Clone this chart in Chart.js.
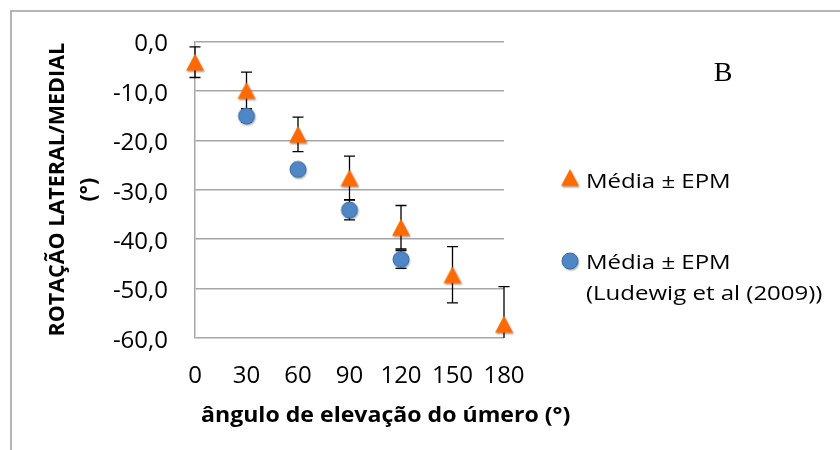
<!DOCTYPE html>
<html>
<head>
<meta charset="utf-8">
<script src="https://cdn.jsdelivr.net/npm/chart.js@4.4.1/dist/chart.umd.min.js"></script>
<style>
  html, body { margin: 0; padding: 0; background: #ffffff; }
  #wrap { width: 840px; height: 450px; position: relative; }
</style>
</head>
<body>
<div id="wrap"><canvas id="chart" width="840" height="450"></canvas></div>
<script>
// Humeral elevation angle (degrees)
const angles = [0, 30, 60, 90, 120, 150, 180];
// Lateral/medial rotation, mean and standard error of the mean (degrees)
const meanRotation = [-4.2, -9.9, -18.8, -27.6, -37.6, -47.2, -57.2];
const semRotation = [3.1, 3.7, 3.5, 4.4, 4.4, 5.7, 7.6];

// Reference values, Ludewig et al (2009)
const ludewigAngles = [30, 60, 90, 120];
const ludewigMean = [-15.1, -25.9, -34.1, -44.1];
const ludewigSem = [1.2, 1.0, 2.0, 1.8];

const yTicks = [0, -10, -20, -30, -40, -50, -60];
const xTicks = [0, 30, 60, 90, 120, 150, 180];

const xTitle = 'ângulo de elevação do úmero (°)';
const yTitle = ['ROTAÇÃO LATERAL/MEDIAL', '(°)'];
const seriesLabels = ['Média ± EPM', ['Média ± EPM', '(Ludewig et al (2009))']];
const panelLetter = 'B';

const ORANGE = '#FF6A00';
const BLUE = '#4F87C6';
const BLUE_EDGE = '#3A6AA3';

// Marker sprites with a soft drop shadow
function makeTriangle() {
  const c = document.createElement('canvas');
  c.width = 28; c.height = 28;
  const g = c.getContext('2d');
  g.shadowColor = 'rgba(0,0,0,0.35)';
  g.shadowBlur = 2;
  g.shadowOffsetX = 1;
  g.shadowOffsetY = 1.5;
  g.fillStyle = ORANGE;
  g.beginPath();
  g.moveTo(14, 5.5);
  g.lineTo(23, 22.5);
  g.lineTo(5, 22.5);
  g.closePath();
  g.fill();
  return c;
}
function makeCircle() {
  const c = document.createElement('canvas');
  c.width = 24; c.height = 24;
  const g = c.getContext('2d');
  g.shadowColor = 'rgba(0,0,0,0.35)';
  g.shadowBlur = 2;
  g.shadowOffsetX = 1;
  g.shadowOffsetY = 1.5;
  g.fillStyle = BLUE;
  g.beginPath();
  g.arc(12, 12, 8, 0, Math.PI * 2);
  g.fill();
  g.shadowColor = 'transparent';
  g.strokeStyle = BLUE_EDGE;
  g.lineWidth = 1;
  g.stroke();
  return c;
}
const triSprite = makeTriangle();
const dotSprite = makeCircle();

const toPoints = (xs, ys) => xs.map((x, i) => ({ x: x, y: ys[i] }));

// Text drawn with a horizontal stretch factor
function wideText(ctx, text, x, y, stretch) {
  ctx.save();
  ctx.translate(x, y);
  ctx.scale(stretch, 1);
  ctx.fillText(text, 0, 0);
  ctx.restore();
}

// Vertical error bars with caps, drawn beneath the markers
const errorBars = {
  id: 'errorBars',
  beforeDatasetsDraw(chart) {
    const { ctx, chartArea, scales: { x, y } } = chart;
    const sets = [
      { xs: angles, m: meanRotation, e: semRotation },
      { xs: ludewigAngles, m: ludewigMean, e: ludewigSem }
    ];
    ctx.save();
    ctx.strokeStyle = '#000000';
    ctx.lineWidth = 1.3;
    sets.forEach(s => {
      s.xs.forEach((a, i) => {
        const px = x.getPixelForValue(a);
        const top = y.getPixelForValue(s.m[i] + s.e[i]);
        const rawBot = y.getPixelForValue(s.m[i] - s.e[i]);
        const bot = Math.min(rawBot, chartArea.bottom);
        ctx.beginPath();
        ctx.moveTo(px, top); ctx.lineTo(px, bot);
        ctx.moveTo(px - 5.5, top); ctx.lineTo(px + 5.5, top);
        if (rawBot <= chartArea.bottom) {
          ctx.moveTo(px - 5.5, bot); ctx.lineTo(px + 5.5, bot);
        }
        ctx.stroke();
      });
    });
    ctx.restore();
  }
};

// Frame, axis title, panel letter and legend
const decorations = {
  id: 'decorations',
  beforeDraw(chart) {
    const ctx = chart.ctx;
    ctx.save();
    ctx.fillStyle = '#ffffff';
    ctx.fillRect(0, 0, chart.width, chart.height);
    ctx.strokeStyle = '#9d9d9d';
    ctx.lineWidth = 1.5;
    ctx.beginPath();
    ctx.moveTo(11, chart.height);
    ctx.lineTo(11, 11);
    ctx.lineTo(chart.width, 11);
    ctx.stroke();
    ctx.restore();
  },
  afterDraw(chart) {
    const ctx = chart.ctx;
    ctx.save();
    ctx.fillStyle = '#000000';

    // x-axis title
    ctx.font = 'bold 22px "Open Sans", sans-serif';
    ctx.textAlign = 'left';
    ctx.textBaseline = 'alphabetic';
    wideText(ctx, xTitle, 201, 421.5, 1.05);

    // panel letter
    ctx.font = '28px "Liberation Serif", "Times New Roman", serif';
    ctx.textAlign = 'center';
    ctx.fillText(panelLetter, 723, 81);

    // legend
    ctx.drawImage(triSprite, 570 - triSprite.width / 2, 177.5 - triSprite.height / 2);
    ctx.drawImage(dotSprite, 570 - dotSprite.width / 2, 261 - dotSprite.height / 2);
    ctx.font = '20px "Open Sans", sans-serif';
    ctx.textAlign = 'left';
    wideText(ctx, seriesLabels[0], 586, 187.5, 1.2);
    wideText(ctx, seriesLabels[1][0], 586, 268.5, 1.2);
    wideText(ctx, seriesLabels[1][1], 586, 300, 1.2);
    ctx.restore();
  }
};

Chart.defaults.font.family = '"Open Sans", sans-serif';
Chart.defaults.color = '#000000';

new Chart(document.getElementById('chart'), {
  type: 'scatter',
  data: {
    datasets: [
      {
        label: seriesLabels[0],
        data: toPoints(angles, meanRotation),
        pointStyle: triSprite,
        clip: false
      },
      {
        label: seriesLabels[1].join(' '),
        data: toPoints(ludewigAngles, ludewigMean),
        pointStyle: dotSprite,
        clip: false
      }
    ]
  },
  options: {
    responsive: false,
    animation: false,
    events: [],
    layout: { padding: { top: 38, right: 336, bottom: 0, left: 0 } },
    plugins: {
      legend: { display: false },
      tooltip: { enabled: false }
    },
    scales: {
      x: {
        type: 'linear',
        min: 0,
        max: 180,
        afterBuildTicks(scale) { scale.ticks = xTicks.map(v => ({ value: v })); },
        afterFit(scale) { scale.height = 112; },
        grid: { display: false, drawTicks: false },
        border: { display: false },
        ticks: {
          padding: 24,
          font: { size: 24 },
          callback: v => String(v)
        }
      },
      y: {
        type: 'linear',
        min: -60,
        max: 0,
        afterBuildTicks(scale) { scale.ticks = yTicks.map(v => ({ value: v })); },
        afterFit(scale) { scale.width = 195; },
        grid: { color: '#a6a6a6', lineWidth: 1.5, drawTicks: false },
        border: { display: true, color: '#a6a6a6', width: 1.5 },
        ticks: {
          padding: 27,
          labelOffset: 3,
          font: { size: 24 },
          callback: v => v.toFixed(1).replace('.', ',').replace('-0,0', '0,0')
        },
        title: {
          display: true,
          text: yTitle,
          font: { size: 21.5, weight: 'bold', lineHeight: 1.42 },
          padding: { top: 43, bottom: 0 }
        }
      }
    }
  },
  plugins: [decorations, errorBars]
});
</script>
</body>
</html>
